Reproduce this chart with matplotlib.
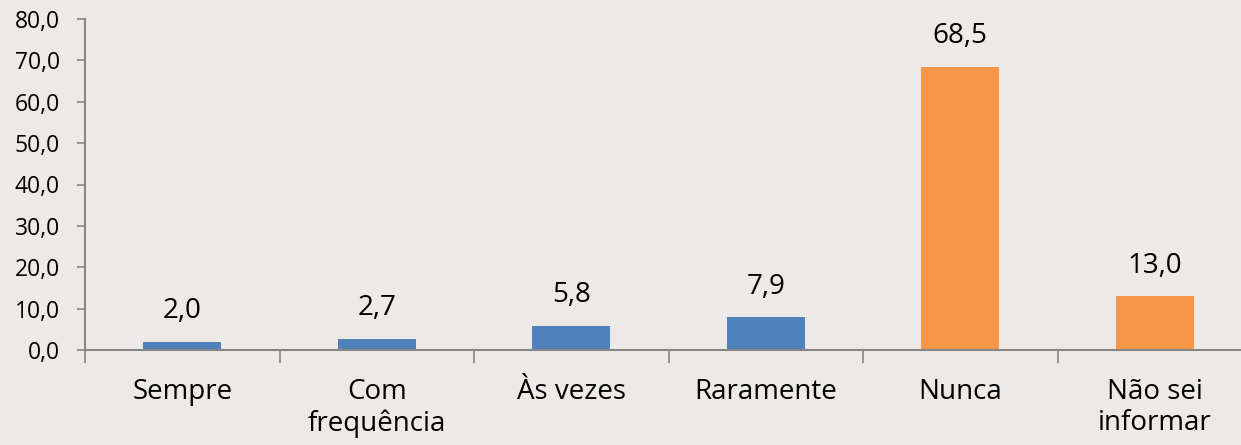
import numpy as np
import matplotlib.pyplot as plt
from matplotlib.ticker import FixedLocator, FuncFormatter

# dados do gráfico
categorias = ['Sempre', 'Com\nfrequência', 'Às vezes', 'Raramente', 'Nunca', 'Não sei\ninformar']
valores = [2.0, 2.7, 5.8, 7.9, 68.5, 13.0]
cores = ['#4F81BD', '#4F81BD', '#4F81BD', '#4F81BD', '#F79646', '#F79646']
yticks = [0, 10, 20, 30, 40, 50, 60, 70, 80]

fundo = '#ECE9E7'
cinza = '#868686'

plt.rcParams['font.family'] = ['Open Sans', 'DejaVu Sans']

fig = plt.figure(figsize=(12.41, 4.45), dpi=100, facecolor=fundo)
ax = fig.add_axes([85 / 1241, 95 / 445, 1167 / 1241, 331 / 445])
ax.set_facecolor(fundo)

x = np.arange(len(categorias)) + 0.5
ax.bar(x, valores, width=0.4, color=cores, zorder=2)

# rótulos de valor
for xi, v in zip(x, valores):
    ax.annotate(f'{v:.1f}'.replace('.', ','), (xi, v), xytext=(0, 12),
                textcoords='offset points', ha='center', va='bottom',
                fontsize=20, color='black')

ax.set_xlim(0, len(categorias))
ax.set_ylim(0, 80)

ax.set_yticks(yticks)
ax.yaxis.set_major_formatter(FuncFormatter(lambda v, p: f'{v:.1f}'.replace('.', ',')))
ax.tick_params(axis='y', labelsize=16.5, length=6, width=1.2, color=cinza, pad=12)

ax.set_xticks(x)
ax.set_xticklabels(categorias, fontsize=20, linespacing=1.15, va='top')
ax.tick_params(axis='x', which='major', length=0, pad=20)
ax.xaxis.set_minor_locator(FixedLocator(np.arange(len(categorias) + 1)))
ax.tick_params(axis='x', which='minor', length=9, width=1.2, color=cinza)

for s in ['top', 'right']:
    ax.spines[s].set_visible(False)
for s in ['left', 'bottom']:
    ax.spines[s].set_color(cinza)
    ax.spines[s].set_linewidth(1.5)

fig.savefig('out.png', dpi=100, facecolor=fundo)
